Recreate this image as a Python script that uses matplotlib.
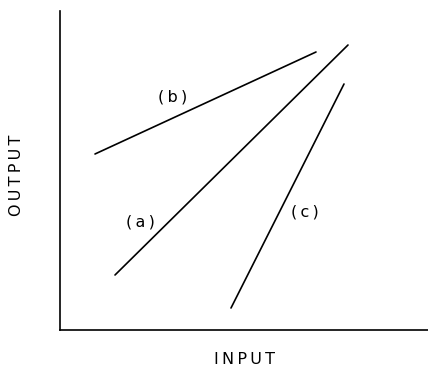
import matplotlib
matplotlib.use("Agg")
import matplotlib.pyplot as plt

# Line endpoints (input, output) in axis units
line_names = ["(a)", "(b)", "(c)"]
line_x = [[55, 288], [35, 256], [171, 284]]
line_y = [[55, 285], [176, 278], [22, 246]]
label_pos = [(80, 108), (113, 233), (245, 118)]
x_label = "INPUT"
y_label = "OUTPUT"

def spaced(s, sep="\u2009"):
    return sep.join(s)

fig = plt.figure(figsize=(4.28, 3.68), dpi=100)
ax = fig.add_axes([60/428, 38/368, 368/428, 319/368])
ax.set_xlim(0, 368)
ax.set_ylim(0, 319)
for xs, ys in zip(line_x, line_y):
    ax.plot(xs, ys, color="black", lw=1.2, solid_capstyle="round")
for name, (lx, ly) in zip(line_names, label_pos):
    ax.text(lx, ly, spaced(name), fontsize=11.5, ha="center", va="center")
for s in ["top", "right"]:
    ax.spines[s].set_visible(False)
for s in ["left", "bottom"]:
    ax.spines[s].set_linewidth(1.2)
ax.set_xticks([])
ax.set_yticks([])
fig.text(245/428, 1 - 359/368, spaced(x_label), fontsize=11.5, ha="center", va="center")
fig.text(17/428, 1 - 175/368, spaced(y_label), fontsize=11.5, ha="center", va="center", rotation=90)
fig.savefig("out.png", dpi=100)
